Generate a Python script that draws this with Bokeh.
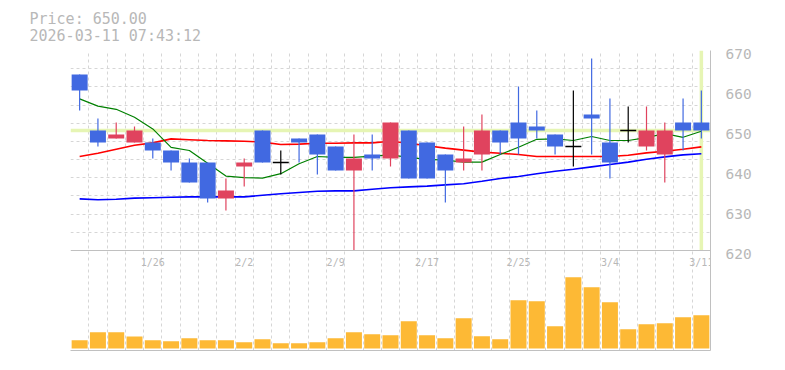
from bokeh.plotting import figure
from bokeh.models import Range1d, LinearAxis, FixedTicker, Grid, Span, Title, ColumnDataSource
from bokeh.core.properties import value
from bokeh.embed import file_html
from bokeh.resources import INLINE

# ---------------- data ----------------
dates = ["1/20", "1/21", "1/22", "1/23", "1/26", "1/27", "1/28", "1/29", "1/30",
         "2/2", "2/3", "2/4", "2/5", "2/6", "2/9", "2/10", "2/12", "2/13",
         "2/16", "2/17", "2/18", "2/19", "2/20", "2/24", "2/25", "2/26", "2/27",
         "3/2", "3/3", "3/4", "3/5", "3/6", "3/9", "3/10", "3/11"]

opens = [664, 650, 648, 647, 647, 645, 642, 642, 633, 641, 650, 642, 648, 649, 646, 640, 644, 643,
         650, 647, 644, 642, 644, 650, 652, 651, 649, 646, 654, 647, 650, 646, 644, 652, 652]
highs = [664, 653, 652, 651, 648, 645, 643, 642, 638, 643, 650, 645, 648, 649, 646, 649, 649, 652,
         650, 647, 644, 651, 654, 650, 661, 655, 649, 660, 668, 658, 656, 656, 652, 658, 660]
lows = [655, 646, 648, 647, 643, 640, 637, 632, 630, 636, 642, 639, 642, 639, 640, 620, 640, 641,
        638, 638, 632, 640, 640, 644, 644, 648, 644, 641, 644, 638, 647, 645, 637, 645, 648]
closes = [660, 647, 649, 650, 645, 642, 637, 633, 635, 642, 642, 642, 647, 644, 640, 643, 643, 652,
          638, 638, 640, 643, 650, 647, 648, 650, 646, 646, 653, 642, 650, 650, 650, 650, 650]

ma5 = [657.9, 656.1, 655.3, 653.3, 650.4, 645.8, 645.0, 641.8, 638.6, 638.2, 638.1, 639.2,
       641.7, 643.5, 643.3, 643.3, 643.6, 643.9, 643.3, 642.8, 642.6, 642.1, 642.1, 644.0,
       645.8, 647.8, 647.9, 647.5, 648.5, 647.5, 647.5, 648.2, 649.2, 648.3, 649.8]
ma25 = [643.5, 644.3, 645.3, 646.3, 646.9, 647.9, 647.7, 647.5, 647.4, 647.3, 647.1, 646.5,
        646.6, 646.8, 646.8, 646.9, 646.9, 647.3, 646.8, 646.2, 645.6, 645.1, 644.6, 644.3,
        644.0, 643.5, 643.5, 643.5, 643.5, 643.5, 643.8, 644.4, 644.8, 645.3, 645.9]
ma75 = [632.9, 632.7, 632.8, 633.1, 633.2, 633.3, 633.4, 633.4, 633.4, 633.4, 633.8, 634.2,
        634.5, 634.8, 634.9, 634.9, 635.3, 635.7, 635.9, 636.1, 636.4, 636.7, 637.3, 638.0,
        638.5, 639.2, 639.8, 640.3, 640.9, 641.5, 642.1, 642.8, 643.4, 643.9, 644.2]

volume = [8300, 16300, 16300, 12000, 8300, 7300, 10300, 8300, 8300, 6300, 9300, 5300,
          5300, 6300, 10300, 16300, 14300, 13300, 27300, 13300, 10300, 30300, 12300, 9300,
          48300, 47300, 22300, 71300, 61300, 46300, 19300, 24300, 25300, 31300, 33300]

tick_labels = ["1/26", "2/2", "2/9", "2/17", "2/25", "3/4", "3/11"]
price_ticks = [620, 630, 640, 650, 660, 670]

title_price = "Price: 650.00"
title_time = "2026-03-11 07:43:12"

# ---------------- styling / layout constants ----------------
UP = "#e0435e"
DOWN = "#4169e1"
FLAT = "#000000"
VOL = "#fdb935"
HILITE = "#e6f5b4"
GRID = "#d6d6d6"
AXIS = "#c0c0c0"
TXT = "#b8b8b8"
FONT = "DejaVu Sans Mono"

PRICE_LO, PRICE_HI = 620, 670
N = len(dates)
xs = list(range(N))

p = figure(width=785, height=370, output_backend="svg", toolbar_location=None, title=None,
           x_range=Range1d(-0.5, N - 0.5), y_range=Range1d(595, PRICE_HI),
           x_axis_type=None, y_axis_type=None,
           min_border_left=70, min_border_right=75, min_border_top=50, min_border_bottom=20,
           outline_line_color=None, background_fill_color="white", border_fill_color="white")

p.extra_y_ranges = {"vol": Range1d(-2000, 298000), "lab": Range1d(595.83, PRICE_HI + 0.83)}

# grids
p.add_layout(Grid(dimension=0, ticker=FixedTicker(ticks=[i - 0.5 for i in range(N + 1)]),
                  grid_line_color=GRID, grid_line_dash="3 3", grid_line_width=1))
p.add_layout(Grid(dimension=1,
                  ticker=FixedTicker(ticks=[PRICE_HI - k * (PRICE_HI - PRICE_LO) / 11 for k in range(11)]),
                  grid_line_color=GRID, grid_line_dash="3 3", grid_line_width=1))

# current price highlight bands
p.segment(x0=[-0.5], y0=[closes[-1]], x1=[N - 0.5], y1=[closes[-1]], line_color=HILITE, line_width=3.5)
p.segment(x0=[xs[-1]], y0=[PRICE_LO], x1=[xs[-1]], y1=[PRICE_HI], line_color=HILITE, line_width=3.5)

# moving averages (behind candles)
p.line(xs, ma75, line_color="#0000ff", line_width=1.6)
p.line(xs, ma25, line_color="#ff0000", line_width=1.6)
p.line(xs, ma5, line_color="#008000", line_width=1.2)

# volume bars
p.vbar(x=xs, top=volume, bottom=0, width=0.875, fill_color=VOL, line_color=None, y_range_name="vol")

# candles
colors = [UP if c > o else (DOWN if c < o else FLAT) for o, c in zip(opens, closes)]
p.segment(x0=xs, y0=highs, x1=xs, y1=lows, line_color=colors, line_width=1.2)

body = ColumnDataSource(dict(
    x=[x for x, o, c in zip(xs, opens, closes) if o != c],
    top=[max(o, c) for o, c in zip(opens, closes) if o != c],
    bottom=[min(o, c) for o, c in zip(opens, closes) if o != c],
    color=[col for col, o, c in zip(colors, opens, closes) if o != c],
))
p.vbar(x="x", top="top", bottom="bottom", width=0.875, fill_color="color", line_color=None, source=body)

doji_x = [x for x, o, c in zip(xs, opens, closes) if o == c]
doji_y = [o for o, c in zip(opens, closes) if o == c]
p.segment(x0=[x - 0.4375 for x in doji_x], y0=doji_y, x1=[x + 0.4375 for x in doji_x], y1=doji_y,
          line_color=FLAT, line_width=1.5)

# panel separator
p.add_layout(Span(location=PRICE_LO, dimension="width", line_color=AXIS, line_width=1))

# date labels inside the volume panel
tick_x = [dates.index(t) for t in tick_labels]
p.text(x=tick_x, y=[617.0] * len(tick_x), text=tick_labels,
       text_font=value(FONT), text_font_size=value("10px"), text_color=TXT,
       text_align="center", text_baseline="middle")

# axes
right = LinearAxis(y_range_name="lab", ticker=FixedTicker(ticks=price_ticks),
                   axis_line_color=AXIS, major_tick_line_color=None, minor_tick_line_color=None,
                   major_label_text_color=TXT, major_label_text_font=FONT,
                   major_label_text_font_size="14.5px", major_label_standoff=9)
p.add_layout(right, "right")
bottom = LinearAxis(ticker=FixedTicker(ticks=[]), axis_line_color=AXIS,
                    major_tick_line_color=None, minor_tick_line_color=None,
                    major_label_text_font_size="0px")
p.add_layout(bottom, "below")

# header text (two lines, stacked above the frame)
p.add_layout(Title(text=" ", standoff=0, text_font_size="3px"), "above")
p.add_layout(Title(text=title_price + "\n" + title_time, align="left", offset=-41, standoff=0,
                   vertical_align="middle", text_font=FONT, text_font_size="15px",
                   text_font_style="normal", text_color=TXT, text_line_height=0.9), "above")

open("out.html", "w").write(file_html(p, INLINE))
